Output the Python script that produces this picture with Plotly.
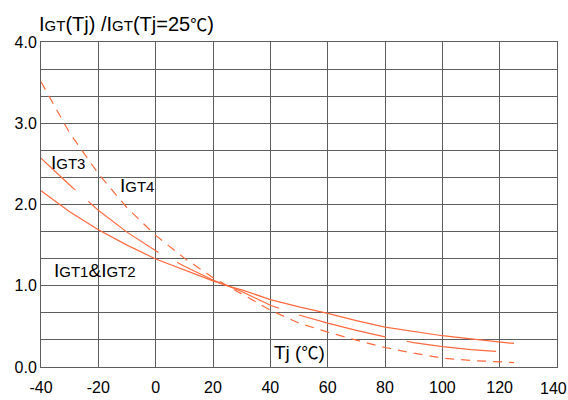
import plotly.graph_objects as go

# Junction temperature (°C)
tj = [-40, -30, -20, -10, 0, 10, 20, 25, 30, 40, 50, 60, 70, 80, 90, 100, 110, 120, 125]
# Normalised gate trigger current IGT(Tj)/IGT(25°C)
igt12 = [2.17, 1.91, 1.69, 1.50, 1.33, 1.19, 1.06, 1.00, 0.95, 0.83, 0.74, 0.66, 0.57, 0.49, 0.44, 0.385, 0.345, 0.31, 0.29]
igt3 = [2.57, 2.24, 1.93, 1.66, 1.43, 1.24, 1.07, 1.00, 0.93, 0.76, 0.64, 0.54, 0.45, 0.37, 0.30, 0.25, 0.215, 0.19, 0.18]
igt4 = [3.51, 2.88, 2.38, 1.96, 1.62, 1.34, 1.10, 1.00, 0.90, 0.70, 0.54, 0.43, 0.33, 0.24, 0.17, 0.11, 0.08, 0.065, 0.055]

x_ticks = [-40, -20, 0, 20, 40, 60, 80, 100, 120, 140]
x_text = ["-40", "-20", "0", "20", "40", "60", "80", "100", "120", ""]
x_last_label = "140"
y_grid = [k / 3 for k in range(13)]
y_text = ["0.0", "", "", "1.0", "", "", "2.0", "", "", "3.0", "", "", "4.0"]

# label anchors (data coords)
lab_igt3 = (-37.2, 2.52)
lab_igt4 = (-13.0, 2.23)
lab_igt12 = (-36.0, 1.19)
lab_tj = (40.5, 0.19)

FONT = "Liberation Sans, Arial, sans-serif"
CJK = "Noto Sans CJK SC"
RED = "#ff6a3d"
GRID = "#5e5e5e"

fig = go.Figure()
fig.add_trace(go.Scatter(x=tj, y=igt12, mode="lines", line=dict(color=RED, width=1.2), showlegend=False))
fig.add_trace(go.Scatter(x=tj, y=igt3, mode="lines",
                         line=dict(color=RED, width=1.2, dash="47px,17px,87px,21px,112px,21px,90px,21px,90px"),
                         showlegend=False))
fig.add_trace(go.Scatter(x=tj, y=igt4, mode="lines", line=dict(color=RED, width=1.2, dash="9px,7px"), showlegend=False))

def sm(t, size=15):
    return f"<span style='font-size:{size}px'>{t}</span>"

def deg(size):
    return f"<span style='font-family:{CJK};font-size:{size}px'>℃</span>"

annots = [
    (lab_igt3, "I" + sm("GT3")),
    (lab_igt4, "I" + sm("GT4")),
    (lab_igt12, "I" + sm("GT1") + "&amp;I" + sm("GT2")),
    (lab_tj, "Tj (" + deg(17) + ")"),
]
for (x, y), t in annots:
    fig.add_annotation(x=x, y=y, xref="x", yref="y", text=t, showarrow=False,
                       xanchor="left", yanchor="middle", font=dict(family=FONT, size=19, color="#000"))

# last x tick label, nudged left so it stays inside the page
fig.add_annotation(x=x_ticks[-1], y=0, xref="x", yref="paper", xanchor="center", yanchor="top",
                   xshift=-4, yshift=-11, showarrow=False, text=x_last_label,
                   font=dict(family=FONT, size=16, color="#000"))

fig.add_annotation(x=0, y=1, xref="paper", yref="paper", xanchor="left", yanchor="bottom",
                   xshift=-4, yshift=4, showarrow=False,
                   text="I" + sm("GT", 15) + "(Tj) /I" + sm("GT", 15) + "(Tj=25" + deg(17) + ")",
                   font=dict(family=FONT, size=20, color="#000"))

fig.update_xaxes(range=[-40, 140], tickvals=x_ticks, ticktext=x_text, showgrid=True, gridcolor=GRID, gridwidth=1,
                 showline=True, linecolor=GRID, linewidth=1, mirror=True, zeroline=False, automargin=False,
                 ticks="", ticklabelstandoff=6, ticklabeloverflow="allow",
                 tickfont=dict(family=FONT, size=16, color="#000"))
fig.update_yaxes(range=[0, 4], tickvals=y_grid, ticktext=y_text, showgrid=True, gridcolor=GRID, gridwidth=1,
                 showline=True, linecolor=GRID, linewidth=1, mirror=True, zeroline=False, automargin=False,
                 ticks="", tickfont=dict(family=FONT, size=16, color="#000"))

fig.update_layout(width=568, height=400, margin=dict(l=41, r=11, t=42, b=33),
                  paper_bgcolor="white", plot_bgcolor="white", font=dict(family=FONT))

fig.write_html("out.html", config={"displayModeBar": False},
               post_script="document.body.style.margin='0';document.body.style.overflow='hidden';")
